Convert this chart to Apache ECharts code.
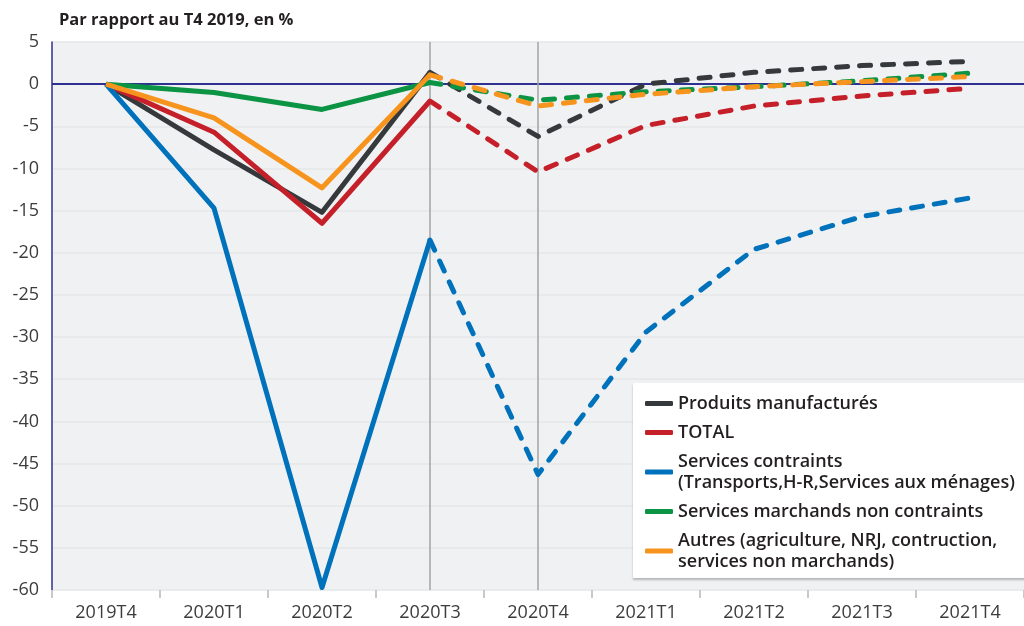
<!DOCTYPE html>
<html>
<head>
<meta charset="utf-8">
<script src="https://cdn.jsdelivr.net/npm/echarts@6/dist/echarts.min.js"></script>
<style>
  html, body { margin: 0; padding: 0; background: #fff; }
  #chart { width: 1024px; height: 626px; }
</style>
</head>
<body>
<div id="chart"></div>
<script>
const categories = ["2019T4", "2020T1", "2020T2", "2020T3", "2020T4", "2021T1", "2021T2", "2021T3", "2021T4"];
const manufactures = [0, -7.8, -15.2, 1.4, -6.2, 0.0, 1.4, 2.2, 2.7];
const total = [0, -5.7, -16.5, -2.0, -10.4, -4.9, -2.6, -1.4, -0.5];
const contraints = [0, -14.7, -59.7, -18.5, -46.3, -29.4, -19.6, -15.7, -13.5];
const nonContraints = [0, -1.0, -3.0, 0.2, -1.9, -0.9, -0.3, 0.4, 1.3];
const autres = [0, -4.0, -12.3, 1.1, -2.6, -1.2, -0.3, 0.3, 0.9];
// last observed quarter, dashed after it
const lastObserved = 3;

const groups = [
  { name: "Produits manufacturés", data: manufactures, color: "#35393c" },
  { name: "TOTAL", data: total, color: "#c5202a" },
  { name: "Services contraints\n(Transports,H-R,Services aux ménages)", data: contraints, color: "#0072bc" },
  { name: "Services marchands non contraints", data: nonContraints, color: "#0b9444" },
  { name: "Autres (agriculture, NRJ, contruction,\nservices non marchands)", data: autres, color: "#f7941d" },
];

const series = [];
groups.forEach((g) => {
  const solid = g.data.map((v, i) => (i <= lastObserved ? v : null));
  const dashed = g.data.map((v, i) => (i >= lastObserved ? v : null));
  series.push({
    name: g.name,
    type: "line",
    data: solid,
    color: g.color,
    symbol: "none",
    z: 3,
    lineStyle: { width: 5, color: g.color, join: "round" },
  });
  series.push({
    name: g.name,
    type: "line",
    data: dashed,
    color: g.color,
    symbol: "none",
    z: 3,
    lineStyle: { width: 5, color: g.color, type: [11, 12], cap: "round", join: "round" },
  });
});

// reference lines: zero and the two quarter markers
series.push({
  type: "line",
  data: [],
  silent: true,
  z: 1,
  markLine: {
    z: 1,
    silent: true,
    symbol: ["none", "none"],
    label: { show: false },
    data: [
      { yAxis: 0, lineStyle: { color: "#2e3192", width: 2, type: "solid" } },
      { xAxis: "2020T3", lineStyle: { color: "#a3a3a3", width: 1.5, type: "solid" } },
      { xAxis: "2020T4", lineStyle: { color: "#a3a3a3", width: 1.5, type: "solid" } },
    ],
  },
});

const chart = echarts.init(document.getElementById("chart"));
chart.setOption({
  animation: false,
  textStyle: { fontFamily: "Open Sans" },
  title: {
    text: "Par rapport au T4 2019, en %",
    left: 54,
    top: 7,
    textStyle: { fontSize: 16.5, fontWeight: "bold", color: "#231f20", fontFamily: "Open Sans" },
  },
  grid: {
    left: 52,
    top: 42,
    width: 975,
    height: 548,
    show: true,
    backgroundColor: "#f0f1f3",
    borderWidth: 0,
  },
  legend: {
    data: groups.map((g) => g.name),
    orient: "vertical",
    left: 633,
    top: 383,
    align: "left",
    icon: "roundRect",
    itemWidth: 28,
    itemHeight: 5,
    itemGap: 8,
    padding: [10, 12, 6, 12],
    backgroundColor: "#ffffff",
    shadowColor: "rgba(0,0,0,0.25)",
    shadowBlur: 2,
    shadowOffsetY: 2,
    textStyle: { fontSize: 18, fontWeight: 600, color: "#231f20", lineHeight: 21, fontFamily: "Open Sans" },
  },
  xAxis: {
    type: "category",
    data: categories,
    axisLine: { show: false, onZero: false },
    axisTick: { show: true, length: 8, lineStyle: { color: "#c8c8c8", width: 2 } },
    axisLabel: { fontSize: 18, color: "#3c3c3c", margin: 14 },
    splitLine: { show: false },
  },
  yAxis: {
    type: "value",
    min: -60,
    max: 5,
    interval: 5,
    axisLine: { show: true, lineStyle: { color: "#2e3192", width: 1.5 } },
    axisTick: { show: false },
    axisLabel: { fontSize: 18, color: "#3c3c3c", margin: 13 },
    splitLine: { lineStyle: { color: "#e4e6e8", width: 1.5 } },
  },
  series: series,
});
</script>
</body>
</html>
